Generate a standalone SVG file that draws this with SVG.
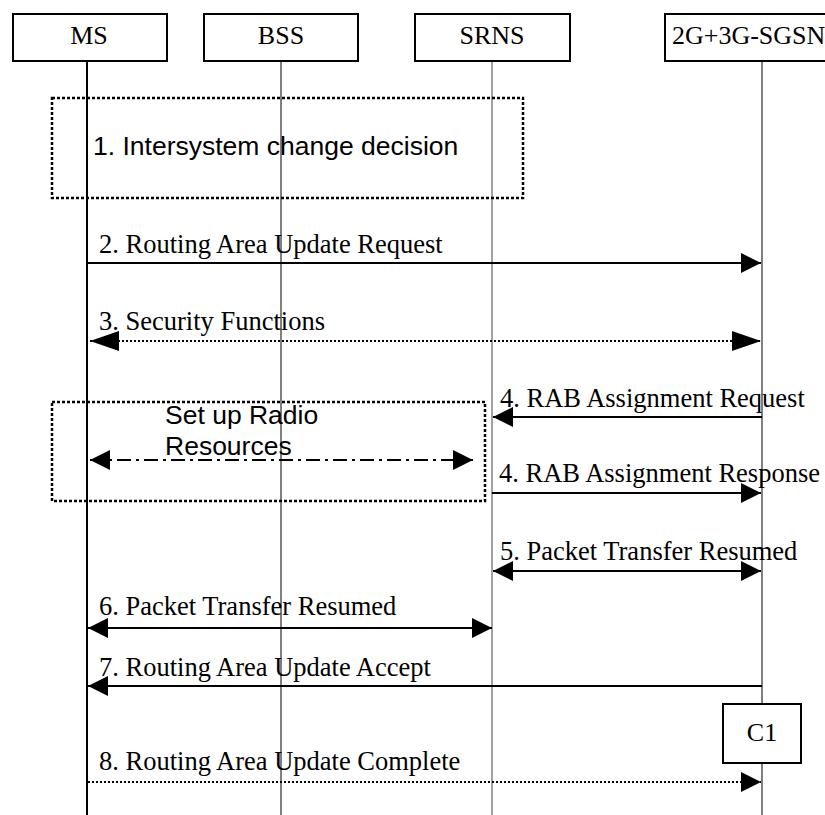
<svg xmlns="http://www.w3.org/2000/svg" width="825" height="815" viewBox="0 0 825 815">
<style>
.hdr{fill:#fff;stroke:#000;stroke-width:2}
.ht{font-family:"Liberation Serif","Times New Roman",serif;font-size:26px;fill:#000}
.mt{font-family:"Liberation Serif","Times New Roman",serif;font-size:26.5px;fill:#000}
.at{font-family:"Liberation Sans",Arial,sans-serif;font-size:26.5px;fill:#000}
.life{stroke:#000;stroke-width:1;fill:none}
.box{fill:none;stroke:#000;stroke-width:2.5;stroke-dasharray:3 2}
.msg{stroke:#000;stroke-width:2;fill:none}
.dot{stroke:#000;stroke-width:2;fill:none;stroke-dasharray:2 2}
.dd{stroke:#000;stroke-width:2;fill:none;stroke-dasharray:14 5 3 5}
</style>
<defs>
<marker id="ah" markerUnits="userSpaceOnUse" markerWidth="20" markerHeight="20" viewBox="0 0 20 20" refX="20" refY="10" orient="auto-start-reverse"><path d="M0,0 L20,10 L0,20 z" fill="#000"/></marker>
<marker id="ahw" markerUnits="userSpaceOnUse" markerWidth="29" markerHeight="20" viewBox="0 0 29 20" refX="29" refY="10" orient="auto-start-reverse"><path d="M0,0 L29,10 L0,20 z" fill="#000"/></marker>
</defs>
<g id="lifelines">
<line class="life" x1="87" y1="61" x2="87" y2="815" style="stroke-width:2"/>
<line class="life" x1="281" y1="61" x2="281" y2="815"/>
<line class="life" x1="492" y1="61" x2="492" y2="815" style="stroke:#444"/>
<line class="life" x1="762" y1="61" x2="762" y2="815"/>
</g>
<g id="node-ms"><rect class="hdr" x="13" y="14" width="154" height="47"/><text class="ht" x="89" y="44" text-anchor="middle">MS</text></g>
<g id="node-bss"><rect class="hdr" x="204" y="14" width="154" height="47"/><text class="ht" x="281" y="44" text-anchor="middle">BSS</text></g>
<g id="node-srns"><rect class="hdr" x="415" y="14" width="155" height="47"/><text class="ht" x="492" y="44" text-anchor="middle">SRNS</text></g>
<g id="node-sgsn"><rect class="hdr" x="665" y="14" width="200" height="47"/><text class="ht" x="672" y="44">2G+3G-SGSN</text></g>
<g id="step1"><rect class="box" x="52" y="98" width="471" height="100"/><text class="at" x="93" y="155">1. Intersystem change decision</text></g>
<g id="step-radio"><rect class="box" x="52" y="402" width="433" height="99"/><text class="at" x="165" y="424">Set up Radio</text><text class="at" x="165" y="455">Resources</text></g>
<g id="node-c1"><rect class="hdr" x="723" y="704" width="78" height="59"/><text class="ht" x="762" y="741" text-anchor="middle">C1</text></g>
<g id="connectors">
<line class="msg" x1="87" y1="263" x2="761" y2="263" marker-end="url(#ah)"/>
<text class="mt" x="99" y="253">2. Routing Area Update Request</text>
<line class="dot" x1="90" y1="341" x2="761" y2="341" marker-start="url(#ahw)" marker-end="url(#ahw)"/>
<text class="mt" x="99" y="330">3. Security Functions</text>
<line class="dd" x1="90" y1="460" x2="473" y2="460" marker-start="url(#ah)" marker-end="url(#ah)"/>
<line class="msg" x1="762" y1="417" x2="493" y2="417" marker-end="url(#ah)"/>
<text class="mt" x="500" y="407">4. RAB Assignment Request</text>
<line class="msg" x1="492" y1="493" x2="761" y2="493" marker-end="url(#ah)"/>
<text class="mt" x="499" y="482">4. RAB Assignment Response</text>
<line class="msg" x1="493" y1="571" x2="761" y2="571" marker-start="url(#ah)" marker-end="url(#ah)"/>
<text class="mt" x="500" y="560">5. Packet Transfer Resumed</text>
<line class="msg" x1="88" y1="628" x2="492" y2="628" marker-start="url(#ah)" marker-end="url(#ah)"/>
<text class="mt" x="99" y="615">6. Packet Transfer Resumed</text>
<line class="msg" x1="762" y1="686" x2="88" y2="686" marker-end="url(#ah)"/>
<text class="mt" x="99" y="676">7. Routing Area Update Accept</text>
<line class="dot" x1="88" y1="782" x2="761" y2="782" marker-end="url(#ah)"/>
<text class="mt" x="99" y="770">8. Routing Area Update Complete</text>
</g>
</svg>
